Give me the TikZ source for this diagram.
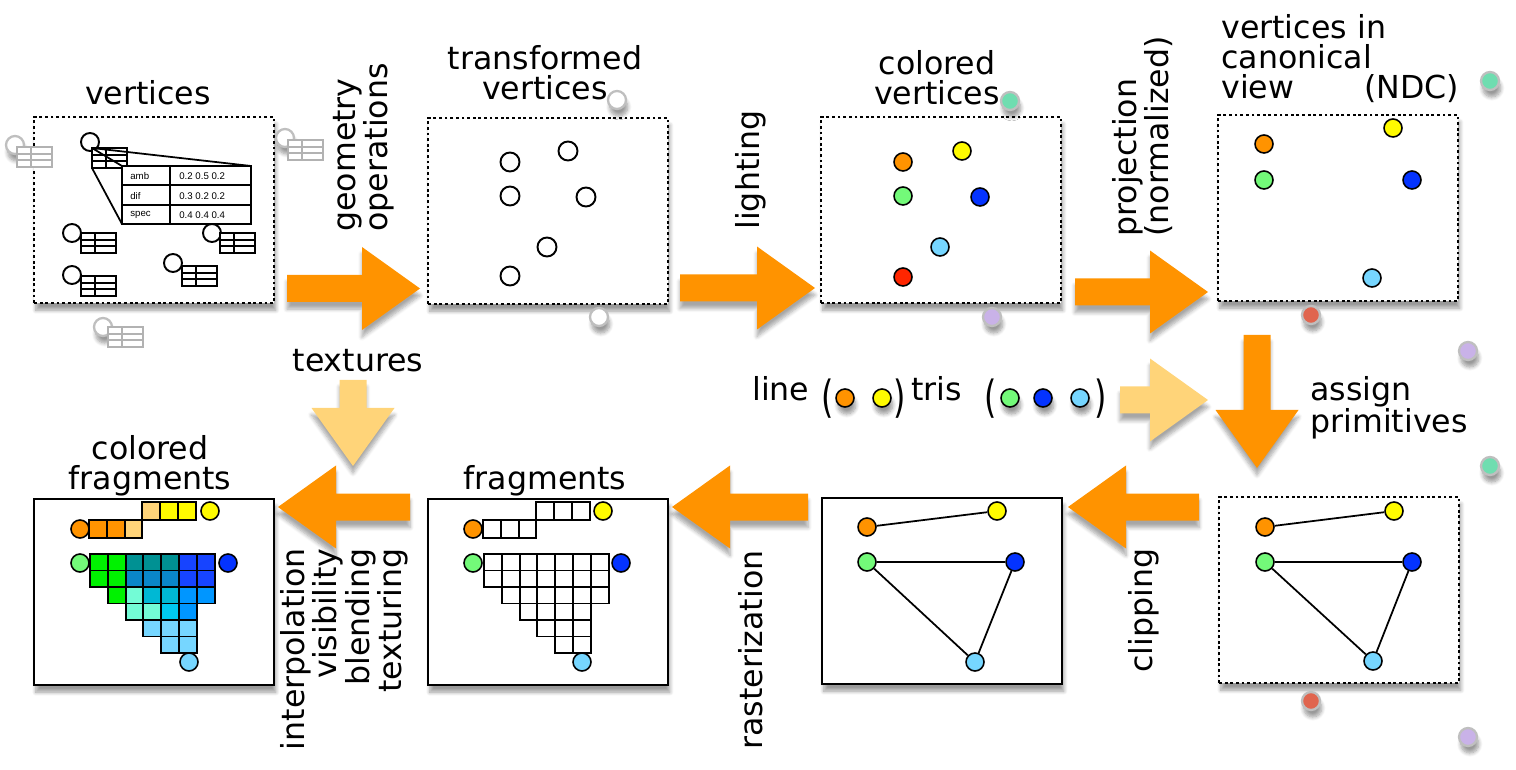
\documentclass[tikz,border=0pt]{standalone}
\usepackage{fontspec}
\setmainfont{DejaVu Sans}
\newfontfamily\tblfont{Liberation Sans}
\usetikzlibrary{shadows.blur}

\definecolor{arrowOrange}{HTML}{FF9300}
\definecolor{arrowLight}{HTML}{FFD479}
\definecolor{vOrange}{HTML}{FF9300}
\definecolor{vYellow}{HTML}{FFFB00}
\definecolor{vGreen}{HTML}{73FA79}
\definecolor{vBlue}{HTML}{0433FF}
\definecolor{vSky}{HTML}{76D6FF}
\definecolor{vRed}{HTML}{FF2600}
\definecolor{fGreen}{HTML}{00F200}
\definecolor{fTeal}{HTML}{009193}
\definecolor{fSteel}{HTML}{0A86C8}
\definecolor{fBlue}{HTML}{1744FF}
\definecolor{fMint}{HTML}{73FCD6}
\definecolor{fCyan}{HTML}{00B8D4}
\definecolor{fTurq}{HTML}{00C8F0}
\definecolor{fAqua}{HTML}{0096FF}
\definecolor{gTeal}{HTML}{6FDDB0}
\definecolor{gViolet}{HTML}{C9B2E8}
\definecolor{gRed}{HTML}{E0654F}

\tikzset{
  lbl/.style={font=\fontsize{18}{17}\selectfont, inner sep=0pt},
  tiny/.style={font=\tblfont\fontsize{5.5}{6}\selectfont, inner sep=0pt},
  soft/.style={blur shadow={shadow xshift=1pt, shadow yshift=-4pt, shadow blur steps=8, shadow opacity=40}},
  stage/.style={draw, line width=1.3pt, fill=white, minimum width=4.8cm, minimum height=3.72cm,
    anchor=north west, inner sep=0pt, soft},
  dstage/.style={stage, dash pattern=on 1.6pt off 1.6pt},
  vdot/.style={circle, draw, line width=0.9pt, minimum size=0.36cm, inner sep=0pt},
  odot/.style={circle, draw, line width=1.1pt, fill=white, minimum size=0.38cm, inner sep=0pt},
  ghost/.style={circle, draw=black!25, line width=1.3pt, minimum size=0.36cm, inner sep=0pt, soft},
  edge/.style={line width=1pt},
  cell/.style={draw, line width=1.1pt},
  tbl/.style={line width=1pt, fill=white},
  ghosttab/.style={draw=black!30, line width=1.3pt, fill=white},
  pics/blockarrow/.style 2 args={code={
    \fill[#2, blur shadow={shadow xshift=0pt, shadow yshift=-4pt, shadow blur steps=6, shadow opacity=35}]
      (0,-13.5) -- (#1,-13.5) -- (#1,-41.5) -- (#1+58,0) -- (#1,41.5) -- (#1,13.5) -- (0,13.5) -- cycle;}},
  pics/vtab/.style={code={
    \draw[#1] (0,0) rectangle (35,20);
    \draw[#1] (0,6.67) -- (35,6.67) (0,13.33) -- (35,13.33) (14,0) -- (14,20);}}
}
\newcommand{\tallparen}[1]{\scalebox{1}[1.4]{#1}}

\begin{document}
\begin{tikzpicture}[x=0.02cm, y=-0.02cm]
  \useasboundingbox (0,0) rectangle (1516,770);

  % stages
  \node[dstage] (vtx) at (33,116) {};
  \node[dstage] (xfm) at (427,117) {};
  \node[dstage] (lit) at (820,116) {};
  \node[dstage] (ndc) at (1217,114) {};
  \node[stage] (cfr) at (33,498) {};
  \node[stage] (frg) at (427,498) {};
  \node[stage] (ras) at (821,497) {};
  \node[dstage] (clp) at (1218,496) {};

  % stray objects
  \node[ghost, fill=white] (s1) at (617,100) {};
  \node[ghost, fill=white] (s2) at (599,317) {};
  \node[ghost, fill=gTeal] (s3) at (1010,101) {};
  \node[ghost, fill=gViolet] (s4) at (992,317) {};
  \node[ghost, fill=gTeal] (s5) at (1490,81) {};
  \node[ghost, fill=gRed] (s6) at (1311,315) {};
  \node[ghost, fill=gViolet] (s7) at (1468,351) {};
  \node[ghost, fill=gTeal] (s8) at (1490,466) {};
  \node[ghost, fill=gRed] (s9) at (1311,701) {};
  \node[ghost, fill=gViolet] (s10) at (1468,737) {};
  \foreach \cx/\cy/\tx/\ty [count=\i] in {15/145/17/147, 285/138/288/140, 103/327/108/327}{
    \node[ghost, fill=white] (gc\i) at (\cx,\cy) {};
    \pic[soft] at (\tx,\ty) {vtab=ghosttab};
  }

  % vertices with attributes
  \foreach \cx/\cy/\tx/\ty [count=\i] in {90/142/92/148, 72/233/81/233, 72/275/81/276, 212/233/220/233, 173/263/182/266}{
    \node[odot, minimum size=0.36cm] (vc\i) at (\cx,\cy) {};
    \pic at (\tx,\ty) {vtab=tbl};
  }
  \draw[line width=1pt] (92,148) -- (122,166) (92,148) -- (251,166) (92,168) -- (122,224);
  \draw[tbl] (122,166) rectangle (251,224);
  \draw[line width=1pt] (122,185) -- (251,185) (122,205) -- (251,205) (170,166) -- (170,224);
  \foreach \ry/\k/\v [count=\i] in {176/amb/{0.2 0.5 0.2}, 196/dif/{0.3 0.2 0.2}, 215/spec/{0.4 0.4 0.4}}{
    \node[tiny, anchor=west] (key\i) at (130,\ry) {\k};
    \node[tiny, anchor=west] (val\i) at (179,\ry) {\v};
  }

  % transformed vertices
  \node[odot] (xA) at (510,162) {};
  \node[odot] (xB) at (568,151) {};
  \node[odot] (xC) at (510,196) {};
  \node[odot] (xD) at (586,197) {};
  \node[odot] (xE) at (547,247) {};
  \node[odot] (xF) at (510,276) {};

  % colored vertices
  \node[vdot, fill=vOrange] (lO) at (903,162) {};
  \node[vdot, fill=vYellow] (lY) at (962,151) {};
  \node[vdot, fill=vGreen] (lG) at (903,196) {};
  \node[vdot, fill=vBlue] (lB) at (980,197) {};
  \node[vdot, fill=vSky] (lS) at (940,247) {};
  \node[vdot, fill=vRed] (lR) at (903,277) {};

  % canonical view
  \node[vdot, fill=vOrange] (nO) at (1264,144) {};
  \node[vdot, fill=vYellow] (nY) at (1393,128) {};
  \node[vdot, fill=vGreen] (nG) at (1264,180) {};
  \node[vdot, fill=vBlue] (nB) at (1412,180) {};
  \node[vdot, fill=vSky] (nS) at (1372,278) {};

  % primitives
  \node[vdot, fill=vOrange] (cO) at (1265,527) {};
  \node[vdot, fill=vYellow] (cY) at (1394,511) {};
  \node[vdot, fill=vGreen] (cG) at (1265,562) {};
  \node[vdot, fill=vBlue] (cB) at (1412,562) {};
  \node[vdot, fill=vSky] (cS) at (1373,661) {};
  \draw[edge] (cO) -- (cY) (cG) -- (cB) (cG) -- (cS) (cB) -- (cS);

  % clipped
  \node[vdot, fill=vOrange] (rO) at (867,527) {};
  \node[vdot, fill=vYellow] (rY) at (997,511) {};
  \node[vdot, fill=vGreen] (rG) at (867,562) {};
  \node[vdot, fill=vBlue] (rB) at (1015,562) {};
  \node[vdot, fill=vSky] (rS) at (975,662) {};
  \draw[edge] (rO) -- (rY) (rG) -- (rB) (rG) -- (rS) (rB) -- (rS);

  % fragments
  \begin{scope}[shift={(427,498)}]
    \foreach \r/\a/\b in {0/0/6, 1/0/6, 2/1/6, 3/2/5, 4/3/5, 5/4/5}
      \foreach \c in {\a,...,\b}
        \draw[cell, fill=white] ({57+\c*17.8},{56+\r*16.5}) rectangle ++(17.8,16.5);
    \foreach \c in {0,1,2}
      \draw[cell] ({56+\c*17.8},22.4) rectangle ++(17.8,17.6);
    \foreach \c in {3,4,5}
      \draw[cell] ({56+\c*17.8},4) rectangle ++(17.8,18.4);
    \node[vdot, fill=vOrange] (fO) at (46,31) {};
    \node[vdot, fill=vYellow] (fY) at (176,13) {};
    \node[vdot, fill=vGreen] (fG) at (46,65) {};
    \node[vdot, fill=vBlue] (fB) at (194,65) {};
    \node[vdot, fill=vSky] (fS) at (155,164) {};
  \end{scope}

  % colored fragments
  \begin{scope}[shift={(33,498)}]
    \foreach \r/\c/\col in {0/0/fGreen, 0/1/fGreen, 0/2/fTeal, 0/3/fTeal, 0/4/fTeal, 0/5/fBlue, 0/6/fBlue,
      1/0/fGreen, 1/1/fGreen, 1/2/fSteel, 1/3/fSteel, 1/4/fSteel, 1/5/fBlue, 1/6/fBlue,
      2/1/fGreen, 2/2/fMint, 2/3/fCyan, 2/4/fCyan, 2/5/fAqua, 2/6/fAqua,
      3/2/fMint, 3/3/fMint, 3/4/fTurq, 3/5/fAqua,
      4/3/vSky, 4/4/vSky, 4/5/vSky, 5/4/vSky, 5/5/vSky}
      \draw[cell, fill=\col] ({57+\c*17.8},{56+\r*16.5}) rectangle ++(17.8,16.5);
    \foreach \c/\col in {0/vOrange, 1/vOrange, 2/arrowLight}
      \draw[cell, fill=\col] ({56+\c*17.8},22.4) rectangle ++(17.8,17.6);
    \foreach \c/\col in {3/arrowLight, 4/vYellow, 5/vYellow}
      \draw[cell, fill=\col] ({56+\c*17.8},4) rectangle ++(17.8,18.4);
    \node[vdot, fill=vOrange] (gO) at (47,31) {};
    \node[vdot, fill=vYellow] (gY) at (177,13) {};
    \node[vdot, fill=vGreen] (gG) at (47,65) {};
    \node[vdot, fill=vBlue] (gB) at (195,65) {};
    \node[vdot, fill=vSky] (gS) at (156,164) {};
  \end{scope}

  % arrows
  \pic at (287,288.5) {blockarrow={75}{arrowOrange}};
  \pic at (680,288) {blockarrow={77}{arrowOrange}};
  \pic at (1075,292) {blockarrow={75}{arrowOrange}};
  \pic[rotate=-90] at (1257,335) {blockarrow={75}{arrowOrange}};
  \pic[rotate=180] at (1199,507) {blockarrow={73}{arrowOrange}};
  \pic[rotate=180] at (808,507) {blockarrow={78}{arrowOrange}};
  \pic[rotate=180] at (410,507) {blockarrow={74}{arrowOrange}};
  \pic[rotate=-90] at (353,380) {blockarrow={28}{arrowLight}};
  \pic at (1120,400) {blockarrow={30}{arrowLight}};

  % primitive list
  \node[lbl, anchor=base west] (tLine) at (752,400) {line};
  \node[lbl, anchor=base west] (pA) at (821,413) {\tallparen{(}};
  \node[vdot, fill=vOrange, soft] (pO) at (845,398) {};
  \node[vdot, fill=vYellow, soft] (pY) at (882,398) {};
  \node[lbl, anchor=base west] (pB) at (893,413) {\tallparen{)}};
  \node[lbl, anchor=base west] (tTris) at (911,400) {tris};
  \node[lbl, anchor=base west] (pC) at (984,413) {\tallparen{(}};
  \node[vdot, fill=vGreen, soft] (pG) at (1010,398) {};
  \node[vdot, fill=vBlue, soft] (pBl) at (1043,398) {};
  \node[vdot, fill=vSky, soft] (pS) at (1080,398) {};
  \node[lbl, anchor=base west] (pD) at (1094,413) {\tallparen{)}};

  % labels
  \node[lbl, anchor=north] (tVtx) at (148,80) {vertices};
  \node[lbl, anchor=north, align=center] (tXfm) at (545,45) {transformed\\vertices};
  \node[lbl, anchor=north, align=center] (tLit) at (937,50) {colored\\vertices};
  \node[lbl, anchor=north west, align=left, text width=4.75cm] (tNdc) at (1221,14) {vertices in\\canonical\\view\hfill(NDC)};
  \node[lbl, anchor=north, align=center] (tCfr) at (150,435) {colored\\fragments};
  \node[lbl, anchor=north] (tFrg) at (545,465) {fragments};
  \node[lbl, anchor=north] (tTex) at (358,349) {textures};
  \node[lbl, anchor=north west, align=left] (tAsg) at (1310,376) {assign\\primitives};
  \node[lbl, rotate=90, anchor=north west, align=left] (tGeo) at (333,232) {geometry\\operations};
  \node[lbl, rotate=90, anchor=north west] (tLgt) at (735,230) {lighting};
  \node[lbl, rotate=90, anchor=north west, align=left] (tPrj) at (1112,237) {projection\\(normalized)};
  \node[lbl, rotate=90, anchor=north west] (tClp) at (1128,673) {clipping};
  \node[lbl, rotate=90, anchor=north west] (tRas) at (738,750) {rasterization};
  \node[lbl, rotate=90, anchor=north east, align=right] (tInt) at (280,548) {interpolation\\visibility\\blending\\texturing};
\end{tikzpicture}
\end{document}
